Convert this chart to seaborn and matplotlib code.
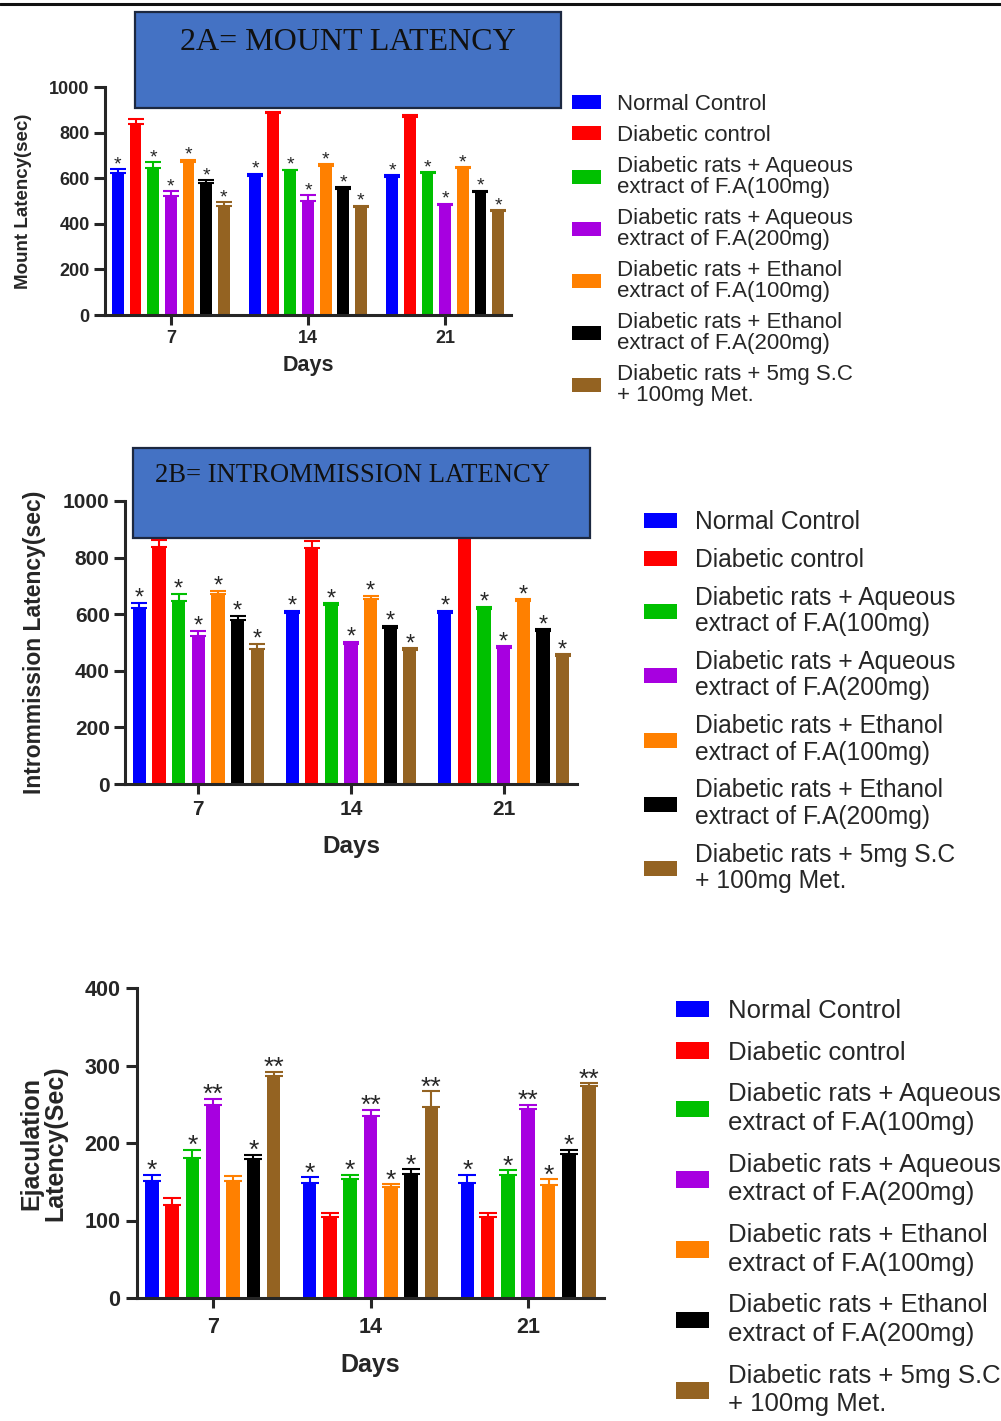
import numpy as np
import pandas as pd
import matplotlib
matplotlib.use("Agg")
import matplotlib.pyplot as plt
from matplotlib.patches import Rectangle, Patch
from matplotlib.lines import Line2D
import seaborn as sns

# ---------------- data ----------------
days = ["7", "14", "21"]
groups = [
    "Normal Control",
    "Diabetic control",
    "Diabetic rats + Aqueous\nextract of F.A(100mg)",
    "Diabetic rats + Aqueous\nextract of F.A(200mg)",
    "Diabetic rats + Ethanol\nextract of F.A(100mg)",
    "Diabetic rats + Ethanol\nextract of F.A(200mg)",
    "Diabetic rats + 5mg S.C\n+ 100mg Met.",
]
colors = ["#0000FF", "#FF0000", "#00C000", "#A700E0", "#FF8000", "#000000", "#946322"]

# one row per group, columns = day 7, 14, 21
mount_mean = [[622, 611, 605], [837, 884, 868], [644, 634, 622], [523, 502, 483],
              [671, 654, 644], [578, 553, 539], [476, 473, 454]]
mount_err = [[18, 8, 8], [22, 8, 8], [25, 4, 5], [19, 24, 5],
             [10, 8, 5], [13, 8, 6], [19, 7, 6]]
mount_stars = [["*"] * 3, [""] * 3, ["*"] * 3, ["*"] * 3, ["*"] * 3, ["*"] * 3, ["*"] * 3]

intro_mean = [[622, 605, 605], [838, 834, 872], [645, 634, 620], [522, 494, 482],
              [672, 654, 647], [580, 553, 539], [478, 473, 452]]
intro_err = [[18, 7, 7], [23, 25, 5], [26, 4, 6], [19, 7, 4],
             [10, 10, 5], [13, 6, 7], [18, 6, 6]]
intro_stars = mount_stars

ejac_mean = [[151, 148, 149], [120, 104, 104], [181, 154, 159], [249, 235, 244],
             [151, 143, 146], [179, 160, 186], [286, 246, 273]]
ejac_err = [[8, 8, 10], [9, 6, 6], [10, 5, 6], [8, 8, 5],
            [6, 4, 7], [6, 6, 5], [6, 21, 4]]
ejac_stars = [["*"] * 3, [""] * 3, ["*"] * 3, ["**"] * 3,
              ["", "*", "*"], ["*"] * 3, ["**"] * 3]

# ---------------- layout helpers ----------------
W, H = 1001, 1421
sns.set_style("ticks")
plt.rcParams["font.family"] = ["Liberation Sans", "DejaVu Sans"]

fig = plt.figure(figsize=(W / 100, H / 100), dpi=100)


def px_rect(left, right, top, bottom):
    return [left / W, 1 - bottom / H, (right - left) / W, (bottom - top) / H]


def panel(box, mean, err, stars, ymax, ylabel, fs, days_fs, ylab_x, days_y, star_fs,
          star_off, cap, ypad, xpad):
    left, right, top, bottom = box
    ax = fig.add_axes(px_rect(left, right, top, bottom))
    df = pd.DataFrame([(groups[g], days[d], mean[g][d])
                       for g in range(len(groups)) for d in range(len(days))],
                      columns=["group", "day", "value"])
    sns.barplot(data=df, x="day", y="value", hue="group", order=days, hue_order=groups,
                palette=colors, saturation=1, width=0.9, gap=0.33, errorbar=None,
                legend=False, linewidth=0, ax=ax)
    bar_sets = list(ax.containers)
    for g, cont in enumerate(bar_sets):
        for d, bar in enumerate(cont):
            x = bar.get_x() + bar.get_width() / 2
            h = bar.get_height()
            ax.errorbar(x, h, yerr=[[0], [err[g][d]]], fmt="none", ecolor=colors[g],
                        elinewidth=1.5, capsize=cap, capthick=1.5, zorder=3)
            if stars[g][d]:
                ax.annotate(stars[g][d], (x, h + err[g][d]), xytext=(0, star_off),
                            textcoords="offset points", ha="center", va="baseline",
                            fontsize=star_fs, annotation_clip=False)
    ax.set_xlim(-0.48, 2.48)
    ax.set_ylim(0, ymax)
    ax.set_yticks(np.linspace(0, ymax, 6 if ymax == 1000 else 5))
    sns.despine(ax=ax)
    for s in ["left", "bottom"]:
        ax.spines[s].set_linewidth(2.2)
    ax.tick_params(axis="y", length=8, width=2.2, pad=ypad, labelsize=fs)
    ax.tick_params(axis="x", length=7.5, width=2.2, pad=xpad, labelsize=fs)
    for t in ax.get_xticklabels() + ax.get_yticklabels():
        t.set_fontweight("bold")
    ax.set_ylabel(ylabel[0], fontsize=ylabel[1], fontweight="bold", linespacing=1.0)
    ax.yaxis.label.set_va("center")
    ax.yaxis.set_label_coords((ylab_x - left) / (right - left), 0.5)
    ax.set_xlabel("Days", fontsize=days_fs, fontweight="bold")
    ax.xaxis.label.set_va("center")
    ax.xaxis.set_label_coords(0.5, -(days_y - bottom) / (bottom - top))
    ax.set_facecolor("none")
    return ax


def title_box(left, right, top, bottom, text, fs, text_x, text_y):
    fig.add_artist(Rectangle((left / W, 1 - bottom / H), (right - left) / W, (bottom - top) / H,
                             transform=fig.transFigure, facecolor="#4472C4",
                             edgecolor="#1C2840", lw=1.6, zorder=10))
    fig.text(text_x / W, 1 - text_y / H, text, ha="center", va="center",
             fontsize=fs, family="Liberation Serif", color="#111111", zorder=11)


def legend(x, y, fs, hl, hh, pad, ls, linesp):
    handles = [Patch(facecolor=c, edgecolor="none") for c in colors]
    leg = fig.legend(handles, groups, loc="upper left", bbox_to_anchor=(x / W, 1 - y / H),
                     frameon=False, fontsize=fs, handlelength=hl, handleheight=hh,
                     handletextpad=pad, labelspacing=ls, borderpad=0, borderaxespad=0)
    for t in leg.get_texts():
        t.set_linespacing(linesp)
    return leg


# top rule
fig.add_artist(Line2D([0, 1], [1 - 4 / H, 1 - 4 / H], transform=fig.transFigure,
                      color="#111111", lw=2.2))

# ---------------- 2A mount latency ----------------
panel((105, 511, 87, 315), mount_mean, mount_err, mount_stars, 1000,
      ("Mount Latency(sec)", 13.5), 13, 15.5, 23, 365, 14, 0, 5.5, 3, 3)
title_box(135, 561, 12, 108, "2A= MOUNT LATENCY", 23, 348, 42)
legend(572, 94, 16, 1.3, 0.55, 0.72, 0.45, 1.0)

# ---------------- 2B intromission latency ----------------
panel((125, 577, 501, 784), intro_mean, intro_err, intro_stars, 1000,
      ("Intrommission Latency(sec)", 16.5), 15, 17.5, 35, 847, 17, -1.2, 6, 3, 4)
title_box(133, 590, 448, 538, "2B= INTROMMISSION LATENCY", 19.2, 353, 475)
legend(644, 510, 17.75, 1.34, 0.57, 0.73, 0.56, 1.13)

# ---------------- ejaculation latency ----------------
panel((137, 604, 988, 1298), ejac_mean, ejac_err, ejac_stars, 400,
      ("Ejaculation\nLatency(Sec)", 18), 15.5, 18, 43, 1365, 19, -2.4, 6.5, 4, 6)
legend(676, 999, 18.5, 1.28, 0.62, 0.74, 0.685, 1.25)

fig.savefig("out.png", dpi=100)
